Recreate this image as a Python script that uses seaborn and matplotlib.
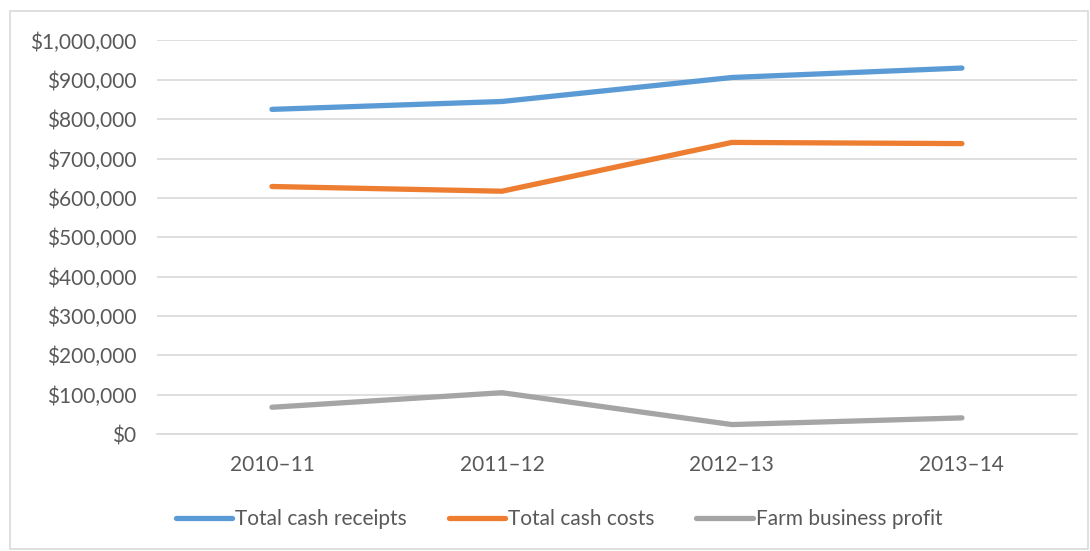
import pandas as pd
import matplotlib.pyplot as plt
import matplotlib.ticker as mticker
from matplotlib.patches import Rectangle
import seaborn as sns

# Values
years = ["2010\u201311", "2011\u201312", "2012\u201313", "2013\u201314"]
cash_receipts = [825000, 845000, 906000, 930000]
cash_costs = [629000, 617000, 741000, 738000]
farm_profit = [68000, 105000, 24000, 41000]

series_names = ["Total cash receipts", "Total cash costs", "Farm business profit"]
series_colors = ["#5B9BD5", "#ED7D31", "#A5A5A5"]

df = pd.DataFrame({
    "Year": years * 3,
    "Value": cash_receipts + cash_costs + farm_profit,
    "Series": [s for s in series_names for _ in years],
})

sns.set_theme(style="white")
plt.rcParams["font.family"] = ["Lato", "DejaVu Sans"]
text_color = "#595959"
grid_color = "#D9D9D9"
font_size = 15

fig = plt.figure(figsize=(10.9, 5.51), dpi=100)
ax = fig.add_axes([0.144, 0.2123, 0.844, 0.7142])

sns.lineplot(data=df, x="Year", y="Value", hue="Series",
             palette=dict(zip(series_names, series_colors)),
             linewidth=3.8, solid_capstyle="round", ax=ax, legend=False)

ax.set_xlim(-0.5, 3.5)
ax.set_ylim(0, 1000000)
ax.yaxis.set_major_locator(mticker.MultipleLocator(100000))
ax.yaxis.set_major_formatter(mticker.FuncFormatter(lambda v, p: f"${v:,.0f}"))
ax.grid(axis="y", color=grid_color, linewidth=1.2)
ax.set_axisbelow(True)
for side in ["top", "right", "left"]:
    ax.spines[side].set_visible(False)
ax.spines["bottom"].set_color(grid_color)
ax.spines["bottom"].set_linewidth(1.2)
ax.tick_params(axis="both", length=0, labelsize=font_size, colors=text_color)
ax.tick_params(axis="y", pad=15)
ax.tick_params(axis="x", pad=15)
ax.set_xlabel("")
ax.set_ylabel("")

handles = [plt.Line2D([], [], color=c, linewidth=3.8, solid_capstyle="round")
           for c in series_colors]
fig.legend(handles, series_names, loc="center", bbox_to_anchor=(0.513, 0.058),
           ncol=3, frameon=False, handlelength=2.7, handletextpad=0.15,
           columnspacing=2.0, prop={"size": font_size}, labelcolor=text_color)

# light border around the whole chart
fig.patches.append(Rectangle((0.009, 0.004), 0.989, 0.976, transform=fig.transFigure,
                             fill=False, edgecolor=grid_color, linewidth=1.2))

fig.savefig("out.png", dpi=100)
